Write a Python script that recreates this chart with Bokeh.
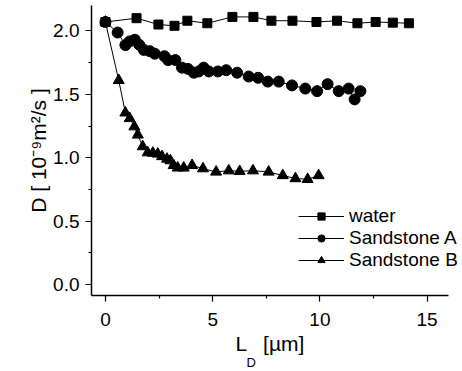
from bokeh.plotting import figure
from bokeh.models import Range1d, Legend, LegendItem, Title, FixedTicker, CustomJSTickFormatter
from bokeh.embed import file_html
from bokeh.resources import INLINE

water_x = [0, 1.45, 2.47, 3.22, 3.82, 4.75, 5.92, 6.9, 7.74, 8.72, 9.84, 10.8, 11.75, 12.6, 13.4, 14.15]
water_y = [2.07, 2.10, 2.05, 2.04, 2.08, 2.06, 2.11, 2.11, 2.08, 2.08, 2.07, 2.08, 2.06, 2.07, 2.065, 2.06]

sa_x = [0, 0.57, 0.93, 1.13, 1.37, 1.58, 1.79, 2.07, 2.30, 2.75, 2.92, 3.26, 3.57, 3.85, 4.12, 4.35,
        4.58, 4.82, 5.24, 5.63, 6.14, 6.68, 7.12, 7.57, 8.08, 8.70, 9.32, 9.87, 10.36, 10.88, 11.34, 11.62, 11.89]
sa_y = [2.07, 1.987, 1.888, 1.917, 1.93, 1.89, 1.85, 1.84, 1.82, 1.80, 1.77, 1.77, 1.71, 1.70, 1.67, 1.68,
        1.71, 1.68, 1.68, 1.69, 1.67, 1.64, 1.63, 1.60, 1.60, 1.57, 1.545, 1.525, 1.58, 1.525, 1.545, 1.46, 1.525]

sb_x = [0, 0.62, 0.93, 1.13, 1.35, 1.51, 1.74, 1.97, 2.21, 2.44, 2.64, 2.87, 3.03, 3.18, 3.37, 3.65,
        4.04, 4.55, 5.16, 5.75, 6.26, 6.88, 7.61, 8.27, 8.86, 9.43, 9.94]
sb_y = [2.07, 1.61, 1.354, 1.31, 1.245, 1.18, 1.088, 1.04, 1.037, 1.03, 1.01, 0.99, 0.977, 0.94, 0.92, 0.92,
        0.94, 0.914, 0.888, 0.898, 0.893, 0.898, 0.888, 0.86, 0.836, 0.83, 0.86]

series_names = ["water", "Sandstone A", "Sandstone B"]
x_ticks = [0, 5, 10, 15]
x_minor = [2.5, 7.5, 12.5]
y_ticks = [0.0, 0.5, 1.0, 1.5, 2.0]
y_minor = [0.25, 0.75, 1.25, 1.75]

FONT = "Liberation Sans"

p = figure(width=462, height=371, output_backend="svg", toolbar_location=None,
           x_range=Range1d(-0.65, 16.65), y_range=Range1d(-0.086, 2.2),
           min_border_left=91, min_border_right=0, min_border_top=5, min_border_bottom=76)
p.outline_line_color = None
p.grid.grid_line_color = None
p.background_fill_color = "white"

for ax in (p.xaxis[0], p.yaxis[0]):
    ax.axis_line_width = 1.5
    ax.axis_line_color = "black"
    ax.major_tick_line_color = "black"
    ax.minor_tick_line_color = "black"
    ax.major_tick_line_width = 1.2
    ax.minor_tick_line_width = 1.2
    ax.major_tick_out = 6
    ax.major_tick_in = 0
    ax.minor_tick_out = 3
    ax.minor_tick_in = 0
    ax.major_label_text_font = FONT
    ax.major_label_text_font_size = "19px"
    ax.major_label_text_color = "black"
    ax.axis_label_text_font = FONT
    ax.axis_label_text_font_style = "normal"
    ax.axis_label_text_color = "black"

p.xaxis.bounds = (-0.65, 16.0)
p.xaxis.ticker = FixedTicker(ticks=x_ticks, minor_ticks=x_minor)
p.yaxis.ticker = FixedTicker(ticks=y_ticks, minor_ticks=y_minor)
p.yaxis.formatter = CustomJSTickFormatter(code="return tick.toFixed(1);")
p.xaxis.major_label_standoff = 11
p.yaxis.major_label_standoff = 6

p.yaxis.axis_label = "D [ 10\u207b\u2079m\u00b2/s ]"
p.yaxis.axis_label_text_font_size = "21px"
p.yaxis.axis_label_standoff = 0

l1 = p.line(water_x, water_y, line_color="black", line_width=1)
s1 = p.scatter(water_x, water_y, marker="square", size=9, color="black")
l2 = p.line(sa_x, sa_y, line_color="black", line_width=1)
s2 = p.scatter(sa_x, sa_y, marker="circle", size=11, color="black")
l3 = p.line(sb_x, sb_y, line_color="black", line_width=1)
s3 = p.scatter(sb_x, sb_y, marker="triangle", size=11, color="black")

legend = Legend(items=[LegendItem(label=series_names[0], renderers=[l1, s1]),
                       LegendItem(label=series_names[1], renderers=[l2, s2]),
                       LegendItem(label=series_names[2], renderers=[l3, s3])],
                location=(207, 24), background_fill_alpha=0, border_line_alpha=0,
                label_text_font=FONT, label_text_font_size="19px", label_text_color="black",
                glyph_width=46, glyph_height=18, spacing=0, label_standoff=5, padding=0, margin=0)
p.add_layout(legend, "center")

# x axis label with subscript, as two stacked titles below the axis
t1 = Title(text="L\u00a0\u00a0\u2009[\u00b5m]", align="left", offset=144, text_font=FONT, text_font_size="21px",
           text_font_style="normal", text_color="black", standoff=2)
t2 = Title(text="D", align="left", offset=155, text_font=FONT, text_font_size="13px",
           text_font_style="normal", text_color="black", standoff=-6)
p.add_layout(t1, "below")
p.add_layout(t2, "below")

open("out.html", "w").write(file_html(p, INLINE))
